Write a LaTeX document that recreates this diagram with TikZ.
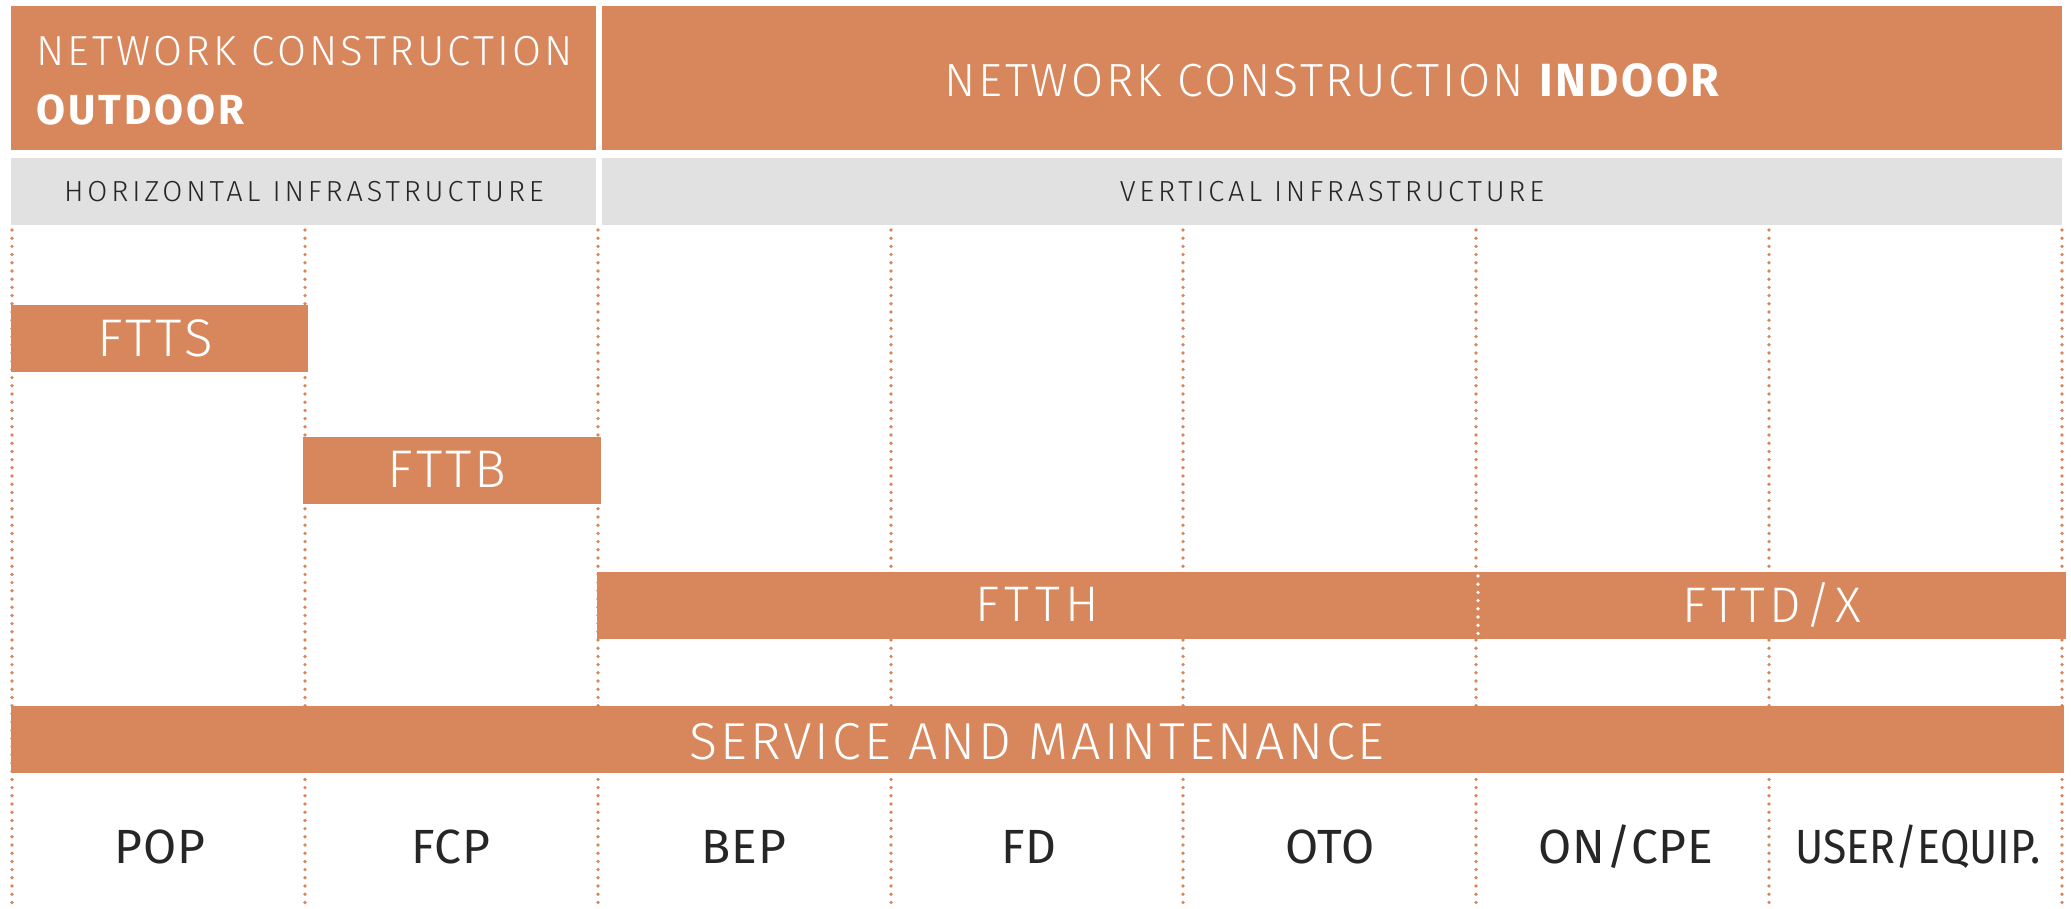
\documentclass[tikz,border=0pt]{standalone}
\usepackage{fontspec}
\setmainfont{Fira Sans}
\newfontfamily\lightfont{Fira Sans Light}
\definecolor{org}{RGB}{216,135,92}
\definecolor{band}{RGB}{225,225,225}
\definecolor{ink}{RGB}{38,38,38}
\begin{document}
\begin{tikzpicture}[x=1pt,y=-1pt,
  box/.style={fill=org, draw=none, inner sep=0pt, outer sep=0pt, anchor=north west},
  greybox/.style={fill=band, draw=none, inner sep=0pt, outer sep=0pt, anchor=north west},
  wlbl/.style={text=white, inner sep=0pt, anchor=base, font=\lightfont},
  dlbl/.style={text=ink, inner sep=0pt, anchor=base},
  dotline/.style={draw=org, line width=3.7pt, line cap=round, dash pattern=on 0pt off 8.2pt},
  wdotline/.style={draw=white, line width=3.7pt, line cap=round, dash pattern=on 0pt off 8.2pt}]
\useasboundingbox (0,0) rectangle (2071,909);
% grid lines
\foreach \gx in {12,305,598,891,1183,1476,1769,2062}{
  \draw[dotline] (\gx,230) -- (\gx,909);
}
% header boxes
\node[box, minimum width=585pt, minimum height=144pt] (outdoor) at (11,6) {};
\node[box, minimum width=1460pt, minimum height=144pt] (indoor) at (602,6) {};
\node[greybox, minimum width=585pt, minimum height=67pt] (horiz) at (11,158) {};
\node[greybox, minimum width=1460pt, minimum height=67pt] (vert) at (602,158) {};
% bars
\node[box, minimum width=297pt, minimum height=67pt] (ftts) at (11,305) {};
\node[box, minimum width=298pt, minimum height=67pt] (fttb) at (303,437) {};
\node[box, minimum width=881pt, minimum height=67pt] (ftth) at (597,572) {};
\node[box, minimum width=588pt, minimum height=67pt] (fttd) at (1478,572) {};
\node[box, minimum width=2053pt, minimum height=67pt] (serv) at (11,706) {};
\path (ftth.north east) ++(0,4) coordinate (wd1);
\path (ftth.south east) ++(0,-4) coordinate (wd2);
\draw[wdotline] (wd1) -- (wd2);
% header texts
\node[wlbl, anchor=base west] (t1) at (36,66) {\fontsize{42}{50}\selectfont\addfontfeature{LetterSpace=7.6}NETWORK CONSTRUCTION};
\node[wlbl, anchor=base west] (t2) at (36,125) {\normalfont\fontsize{42}{50}\selectfont\bfseries\addfontfeature{LetterSpace=7}OUTDOOR};
\node[wlbl] (t3) at (1332,97) {\fontsize{46.5}{54}\selectfont\addfontfeature{LetterSpace=5.8}NETWORK CONSTRUCTION {\normalfont\fontsize{46.5}{54}\selectfont\bfseries\addfontfeature{LetterSpace=5}INDOOR}};
\node[dlbl, font=\lightfont] (t4) at (304,202) {\fontsize{29}{34}\selectfont\addfontfeature{LetterSpace=13.3}HORIZONTAL INFRASTRUCTURE};
\node[dlbl, font=\lightfont] (t5) at (1332,202) {\fontsize{29}{34}\selectfont\addfontfeature{LetterSpace=13}VERTICAL INFRASTRUCTURE};
% bar texts
\node[wlbl] (l1) at (155,356) {\fontsize{53}{60}\selectfont\addfontfeature{LetterSpace=6.5}FTTS};
\node[wlbl] (l2) at (447,487) {\fontsize{53}{60}\selectfont\addfontfeature{LetterSpace=6}FTTB};
\node[wlbl] (l3) at (1037,621) {\fontsize{50}{58}\selectfont\addfontfeature{LetterSpace=11}FTTH};
\node[wlbl] (l4) at (1772,622) {\fontsize{50}{58}\selectfont\addfontfeature{LetterSpace=9}FTTD/X};
\node[wlbl] (l5) at (1037,759) {\fontsize{52}{60}\selectfont\addfontfeature{LetterSpace=5.7}SERVICE AND MAINTENANCE};
% bottom labels
\foreach \cx/\txt [count=\i] in {160/POP,451/FCP,744/BEP,1029/FD,1330/OTO,1626/{ON/CPE}}{
  \node[dlbl] (b\i) at (\cx,863) {\fontsize{48}{58}\selectfont\addfontfeature{LetterSpace=1.5}\txt};
}
\node[dlbl] (b7) at (1918,863) {\scalebox{0.89}[1]{\fontsize{48}{58}\selectfont USER/EQUIP.}};
\end{tikzpicture}
\end{document}
